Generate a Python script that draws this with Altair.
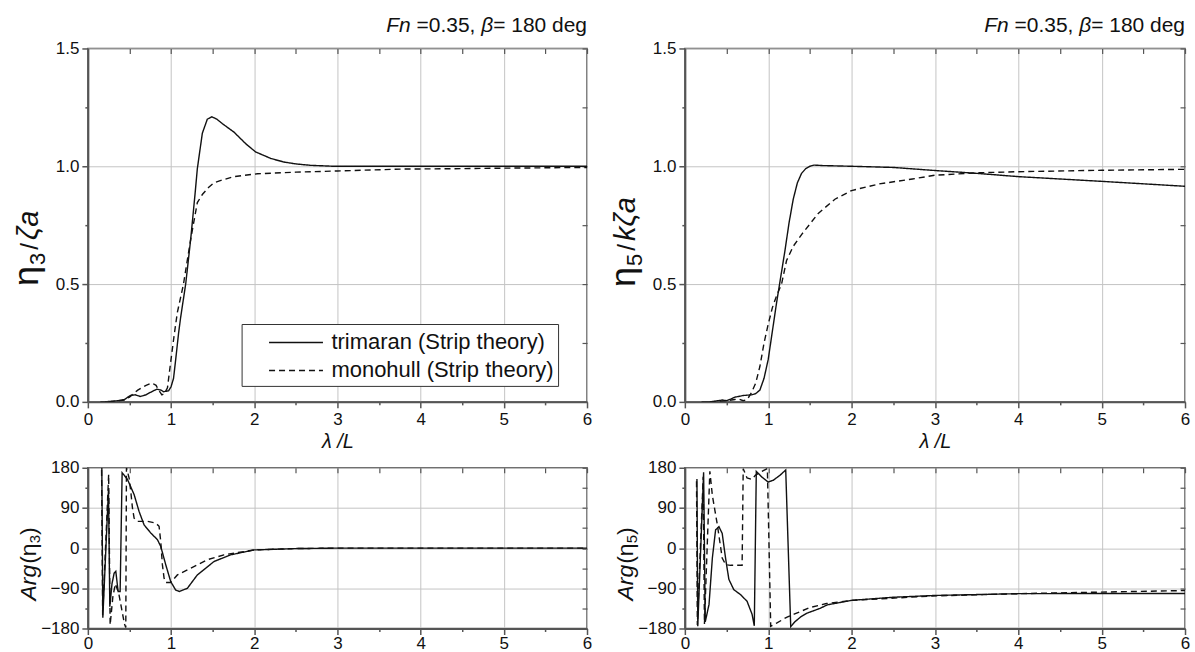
import altair as alt
import pandas as pd

FONT = "Liberation Sans, Arial, Helvetica, sans-serif"
S_TRI = "trimaran (Strip theory)"
S_MONO = "monohull (Strip theory)"

# ---------------- data ----------------
# heave amplitude  eta3 / zeta_a
h_tri_x = [0.15, 0.2, 0.3, 0.36, 0.44, 0.51, 0.57, 0.63, 0.7, 0.75, 0.83, 0.88, 0.91, 0.97, 1.0, 1.03,
           1.056, 1.09, 1.116, 1.176, 1.236, 1.29, 1.316, 1.376, 1.436, 1.49, 1.55, 1.62, 1.756, 1.9,
           2.016, 2.2, 2.356, 2.5, 2.676, 2.956, 3.5, 4.0, 5.0, 6.0]
h_tri_y = [0.0, 0.0, 0.003, 0.005, 0.01, 0.027, 0.03, 0.023, 0.03, 0.04, 0.054, 0.05, 0.043, 0.047, 0.064, 0.1,
           0.18, 0.29, 0.36, 0.5, 0.69, 0.888, 0.99, 1.14, 1.2, 1.21, 1.2, 1.18, 1.145, 1.095,
           1.061, 1.033, 1.018, 1.01, 1.004, 1.0, 1.0, 1.0, 1.0, 1.0]
h_mono_x = [0.25, 0.3, 0.36, 0.44, 0.5, 0.55, 0.6, 0.65, 0.7, 0.77, 0.82, 0.85, 0.89, 0.92, 0.957, 0.996,
            1.04, 1.076, 1.148, 1.236, 1.316, 1.376, 1.45, 1.516, 1.6, 1.756, 2.036, 2.5, 3.0, 3.76,
            4.5, 5.0, 6.0]
h_mono_y = [0.0, 0.002, 0.004, 0.008, 0.02, 0.035, 0.05, 0.06, 0.07, 0.08, 0.07, 0.05, 0.03, 0.035, 0.06, 0.17,
            0.29, 0.38, 0.497, 0.69, 0.846, 0.88, 0.91, 0.93, 0.94, 0.956, 0.968, 0.975, 0.98, 0.988,
            0.99, 0.992, 0.995]

# pitch amplitude  eta5 / k zeta_a
p_tri_x = [0.2, 0.3, 0.4, 0.45, 0.5, 0.55, 0.6, 0.7, 0.8, 0.85, 0.9, 0.95, 1.0, 1.05, 1.1, 1.15, 1.2,
           1.25, 1.3, 1.35, 1.4, 1.45, 1.5, 1.55, 1.65, 2.0, 2.5, 3.0, 3.5, 4.0, 5.0, 6.0]
p_tri_y = [0.0, 0.0, 0.005, 0.008, 0.005, 0.012, 0.02, 0.027, 0.03, 0.035, 0.05, 0.1, 0.18, 0.3, 0.42, 0.53, 0.64,
           0.76, 0.86, 0.93, 0.97, 0.99, 1.0, 1.005, 1.003, 1.0, 0.995, 0.982, 0.97, 0.956, 0.936, 0.915]
p_mono_x = [0.3, 0.4, 0.5, 0.6, 0.65, 0.7, 0.75, 0.8, 0.85, 0.9, 0.95, 1.0, 1.05, 1.1, 1.16, 1.22, 1.3,
            1.4, 1.6, 1.8, 2.0, 2.33, 2.73, 3.0, 3.5, 4.0, 5.0, 6.0]
p_mono_y = [0.0, 0.002, 0.005, 0.01, 0.012, 0.005, 0.01, 0.04, 0.08, 0.15, 0.25, 0.33, 0.4, 0.45, 0.5, 0.6, 0.66,
            0.71, 0.8, 0.86, 0.897, 0.925, 0.946, 0.962, 0.972, 0.977, 0.983, 0.987]

# heave phase  Arg(eta3)
a3_tri_x = [0.168, 0.18, 0.248, 0.264, 0.29, 0.316, 0.336, 0.364, 0.388, 0.412, 0.476, 0.556, 0.616, 0.676,
            0.756, 0.836, 0.876, 0.936, 0.996, 1.056, 1.1, 1.196, 1.316, 1.516, 1.716, 2.0, 2.5, 3.0, 4.0,
            5.0, 6.0]
a3_tri_y = [180, -156, 131, -131, -80, -56, -52, -97, -97, 169, 154, 120, 82, 52,
            34, 19, 4, -37, -75, -94, -97, -90, -60, -30, -15, -4, -1, 0, 0,
            0, 0]
a3_mono_x = [0.165, 0.178, 0.25, 0.268, 0.3, 0.33, 0.37, 0.41, 0.44, 0.456, 0.464, 0.496, 0.516, 0.536,
             0.556, 0.596, 0.716, 0.816, 0.856, 0.876, 0.896, 0.916, 0.936, 0.996, 1.076, 1.236, 1.436,
             1.636, 2.0, 2.5, 3.0, 4.0, 5.0, 6.0]
a3_mono_y = [175, -150, 165, -172, -110, -80, -100, -140, -170, -178, 180, 157, 127, 90,
             67, 60, 60, 56, 49, 15, -37, -67, -77, -77, -60, -45, -26,
             -15, -4, -1, 0, 0, 0, 0]

# pitch phase  Arg(eta5)
a5_tri_x = [0.145, 0.155, 0.225, 0.245, 0.29, 0.33, 0.369, 0.409, 0.448, 0.488, 0.528, 0.587, 0.667,
            0.746, 0.806, 0.833, 0.857, 0.925, 1.0, 1.06, 1.14, 1.21, 1.27, 1.32, 1.39, 1.46, 1.62, 1.71,
            2.0, 2.5, 3.0, 4.0, 5.0, 6.0]
a5_tri_y = [155, -175, 170, -165, -126, -22, 41, 48, 33, -22, -70, -93, -104,
            -119, -148, -174, 172, 159, 148, 152, 163, 175, -176, -165, -154, -146, -135, -127,
            -117, -110, -106, -102, -101.5, -101.5]
a5_mono_x = [0.14, 0.15, 0.22, 0.235, 0.3, 0.33, 0.39, 0.448, 0.49, 0.548, 0.687, 0.7, 0.746, 0.806,
             0.845, 0.905, 0.99, 1.03, 1.1, 1.22, 1.31, 1.5, 1.7, 2.0, 3.0, 4.0, 5.0, 6.0]
a5_mono_y = [150, -172, 160, -170, 172, 118, 52, -22, -37, -38.5, -38.5, 178, 157, 154,
             163, 170, 178, -175, -168, -155, -148, -133, -124, -117, -107, -102, -98.5, -95]

x_ticks = [0, 0.5, 1, 1.5, 2, 2.5, 3, 3.5, 4, 4.5, 5, 5.5, 6]
amp_ticks = [0, 0.25, 0.5, 0.75, 1.0, 1.25, 1.5]
arg_ticks = [-180, -135, -90, -45, 0, 45, 90, 135, 180]

# title pieces (text, font style, gap before it in font units)
TITLE_PARTS = [("Fn", "italic", 0), ("=0.35,", "normal", 278), ("\u03b2", "italic", 278),
               ("= 180 deg", "normal", 0)]
# rotated y titles: (text, font size, style, baseline shift, gap after px)
YT_HEAVE = [("\u03b7", 36, "normal", 0, 1), ("3", 22, "normal", 7, 3), ("/", 24, "normal", 0, 3),
            ("\u03b6a", 29, "italic", 0, 0)]
YT_PITCH = [("\u03b7", 36, "normal", 0, 1), ("5", 22, "normal", 7, 3), ("/", 24, "normal", 0, 3),
            ("k\u03b6a", 29, "italic", 0, 0)]
YT_ARG3 = [("Arg", 23, "italic", 0, 1), ("(\u03b7", 23, "normal", 0, 0), ("3", 15, "normal", 4, 0),
           (")", 23, "normal", 0, 0)]
YT_ARG5 = [("Arg", 23, "italic", 0, 1), ("(\u03b7", 23, "normal", 0, 0), ("5", 15, "normal", 4, 0),
           (")", 23, "normal", 0, 0)]

CHAR_W = {"F": 611, "n": 556, " ": 278, "=": 584, "0": 556, ".": 278, "3": 556, "5": 556,
          ",": 278, "1": 556, "8": 556, "d": 556, "e": 556, "g": 556, "\u03b2": 570,
          "\u03b7": 560, "\u03b6": 460, "a": 556, "k": 500, "/": 278, "A": 667, "r": 333,
          "(": 333, ")": 333}

# ---------------- helpers ----------------
W_L, W_R = 500, 501
H_TOP, H_BOT = 354, 161
GRID = "#c4c4c4"
AXC = "#555555"
TXT = "#111111"


def text_w(text, fs):
    return sum(CHAR_W.get(c, 556) for c in text) * fs / 1000.0


def frame(xs1, ys1, xs2, ys2):
    d1 = pd.DataFrame({"x": xs1, "y": ys1, "series": S_TRI, "i": range(len(xs1))})
    d2 = pd.DataFrame({"x": xs2, "y": ys2, "series": S_MONO, "i": range(len(xs2))})
    return pd.concat([d1, d2], ignore_index=True)


def x_axis(title, label_pad):
    kw = dict(
        values=x_ticks, grid=True,
        gridColor=GRID, gridWidth=1,
        gridOpacity={"condition": {"test": "datum.value % 1 !== 0", "value": 0}, "value": 1},
        tickSize={"condition": {"test": "datum.value % 1 !== 0", "value": 3}, "value": 6},
        tickColor=AXC, tickWidth=1.5,
        labelExpr="datum.value % 1 === 0 ? format(datum.value, 'd') : ''",
        labelFontSize=17, labelFont=FONT, labelColor=TXT, labelPadding=label_pad,
        labelFlush=False, labelOverlap=False,
        domainColor=AXC, domainWidth=2,
    )
    if title:
        kw.update(title=title, titleFont=FONT, titleFontSize=20, titleFontStyle="italic",
                  titleFontWeight="normal", titleColor=TXT, titlePadding=4)
    else:
        kw.update(title=None)
    return alt.Axis(**kw)


def y_axis(ticks, major_test, label_expr):
    return alt.Axis(
        values=ticks, grid=True, gridColor=GRID, gridWidth=1,
        gridOpacity={"condition": {"test": major_test, "value": 0}, "value": 1},
        tickSize={"condition": {"test": major_test, "value": 3}, "value": 6},
        tickColor=AXC, tickWidth=1.5,
        labelExpr=label_expr, labelFontSize=17, labelFont=FONT, labelColor=TXT,
        labelPadding=3, labelOverlap=False, labelFlush=False,
        domainColor=AXC, domainWidth=2, title=None,
    )


def mirror_axes(df, ydom, yticks):
    # invisible layer carrying the inward ticks on the top and right frame edges
    return alt.Chart(df).mark_point(opacity=0).encode(
        x=alt.X("x:Q", scale=alt.Scale(domain=[0, 6], nice=False, zero=False),
                axis=alt.Axis(orient="top", values=x_ticks, labels=False, grid=False, domain=False,
                              ticks=True, tickSize=5, offset=-5, tickColor=AXC, tickWidth=1.2,
                              title=None)),
        y=alt.Y("y:Q", scale=alt.Scale(domain=ydom, nice=False, zero=False),
                axis=alt.Axis(orient="right", values=yticks, labels=False, grid=False, domain=False,
                              ticks=True, tickSize=5, offset=-5, tickColor=AXC, tickWidth=1.2,
                              title=None)),
    )


def rotated_title(pieces, start_y, base_x):
    layers = []
    y = start_y
    for text, fs, style, shift, gap in pieces:
        layers.append(
            alt.Chart(pd.DataFrame({"t": [text]})).mark_text(
                align="left", baseline="alphabetic", angle=270, fontSize=fs, font=FONT,
                fontStyle=style, color=TXT, dy=shift,
            ).encode(text="t:N", x=alt.value(base_x), y=alt.value(y))
        )
        y -= text_w(text, fs) + gap
    return layers


def top_title(width):
    fs = 21
    layers = []
    xr = width
    for text, style, gap_before in reversed(TITLE_PARTS):
        layers.append(
            alt.Chart(pd.DataFrame({"t": [text]})).mark_text(
                align="right", baseline="alphabetic", fontSize=fs, font=FONT,
                fontStyle=style, color=TXT,
            ).encode(text="t:N", x=alt.value(xr), y=alt.value(-16))
        )
        xr -= text_w(text, fs) + gap_before * fs / 1000.0
    return layers


def panel(df, width, height, ydom, yticks, yax, xax, ytitle, ystart, ybase,
          show_legend, with_title):
    dash_legend = None
    if show_legend:
        dash_legend = alt.Legend(
            title=None, orient="none", legendX=154, legendY=276,
            strokeColor="#333", fillColor="white", padding=4,
            symbolType="M-2,0L2,0", symbolSize=729, symbolStrokeWidth=1.5,
            symbolStrokeColor=TXT, symbolOffset=36,
            labelFontSize=22, labelFont=FONT, labelColor=TXT, labelOffset=21,
            labelLimit=500, rowPadding=2,
        )
    lines = alt.Chart(df).mark_line(color=TXT, strokeWidth=1.4, clip=True).encode(
        x=alt.X("x:Q", scale=alt.Scale(domain=[0, 6], nice=False, zero=False), axis=xax),
        y=alt.Y("y:Q", scale=alt.Scale(domain=ydom, nice=False, zero=False), axis=yax),
        strokeDash=alt.StrokeDash(
            "series:N",
            scale=alt.Scale(domain=[S_TRI, S_MONO], range=[[1, 0], [6, 4]]),
            legend=dash_legend,
        ),
        order="i:Q",
    )
    layers = [lines, mirror_axes(df, ydom, yticks)]
    layers += rotated_title(ytitle, ystart, ybase)
    if with_title:
        layers += top_title(width)
    return alt.layer(*layers).resolve_axis(x="independent", y="independent").properties(
        width=width, height=height)


amp_major = "abs(datum.value * 2 - round(datum.value * 2)) > 0.001"
amp_label = "abs(datum.value * 2 - round(datum.value * 2)) < 0.001 ? format(datum.value, '.1f') : ''"
arg_major = "datum.value % 90 !== 0"
arg_label = "datum.value % 90 === 0 ? format(datum.value, 'd') : ''"

tl = panel(frame(h_tri_x, h_tri_y, h_mono_x, h_mono_y), W_L, H_TOP, [0, 1.5], amp_ticks,
           y_axis(amp_ticks, amp_major, amp_label), x_axis("\u03bb /L", 4),
           YT_HEAVE, 238, -50, True, True)
tr = panel(frame(p_tri_x, p_tri_y, p_mono_x, p_mono_y), W_R, H_TOP, [0, 1.5], amp_ticks,
           y_axis(amp_ticks, amp_major, amp_label), x_axis("\u03bb /L", 4),
           YT_PITCH, 239, -50, False, True)
bl = panel(frame(a3_tri_x, a3_tri_y, a3_mono_x, a3_mono_y), W_L, H_BOT, [-180, 180], arg_ticks,
           y_axis(arg_ticks, arg_major, arg_label), x_axis(None, 1),
           YT_ARG3, 133, -52, False, False)
br = panel(frame(a5_tri_x, a5_tri_y, a5_mono_x, a5_mono_y), W_R, H_BOT, [-180, 180], arg_ticks,
           y_axis(arg_ticks, arg_major, arg_label), x_axis(None, 1),
           YT_ARG5, 133, -52, False, False)

chart = alt.concat(
    tl, tr, bl, br, columns=2, spacing={"row": 66, "column": 98}, bounds="flush"
).resolve_scale(
    strokeDash="independent"
).properties(
    padding={"left": 8, "top": 14, "right": 4, "bottom": 0},
    background="white",
).configure_view(stroke=AXC, strokeWidth=1.5)

chart.save("out.html", embed_options={"renderer": "svg", "actions": False})
